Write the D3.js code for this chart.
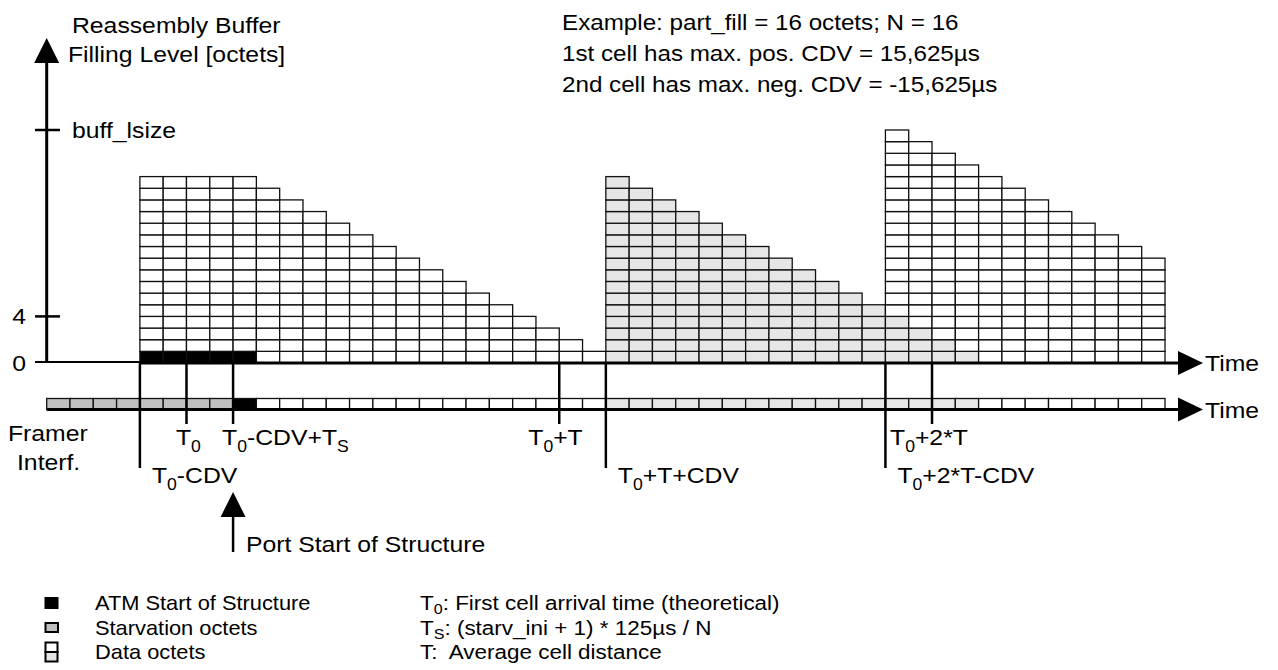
<!DOCTYPE html>
<html lang="en">
<head>
<meta charset="UTF-8">
<title>Reassembly Buffer Filling Level</title>
<script src="https://d3js.org/d3.v7.min.js"></script>
<style>
  body { margin:0; background:#fff; }
  svg { display:block; }
  text { font-family: "Liberation Sans", Arial, Helvetica, sans-serif; fill:#000; white-space: pre; }
</style>
</head>
<body>
<svg id="chart" width="1278" height="670"></svg>
<script>
// one slot = one octet time on the framer interface
var slotCount = 48;

// buffer content per slot, starting at slot 4 (T0-CDV)
var bufferStart = 4;
var bufferTotal = [16,16,16,16,16,15,14,13,12,11,10,9,8,7,6,5,4,3,2,1,
                   16,15,14,13,12,11,10,9,8,7,6,5,
                   20,19,18,17,16,15,14,13,12,11,10,9];
// octets of the 2nd cell still in the buffer (bottom rows, light grey)
var bufferOld   = [0,0,0,0,0,0,0,0,0,0,0,0,0,0,0,0,0,0,0,0,
                   16,15,14,13,12,11,10,9,8,7,6,5,
                   4,3,2,1,0,0,0,0,0,0,0,0];
// ATM start of structure octet (bottom row, black)
var bufferAtm   = [1,1,1,1,1,0,0,0,0,0,0,0,0,0,0,0,0,0,0,0,
                   0,0,0,0,0,0,0,0,0,0,0,0,
                   0,0,0,0,0,0,0,0,0,0,0,0];

// octets played out on the framer interface
var framerOctets = ["starv","starv","starv","starv","starv","starv","starv","starv",
  "atm",
  "data1","data1","data1","data1","data1","data1","data1","data1","data1","data1","data1","data1","data1","data1","data1",
  "data2","data2","data2","data2","data2","data2","data2","data2","data2","data2","data2","data2","data2","data2","data2","data2",
  "data1","data1","data1","data1","data1","data1","data1","data1"];

// time marks (slot, label, long tick)
var markSlots  = [4, 6, 8, 22, 24, 36, 38];
var markLabels = ["T~0-CDV", "T~0", "T~0-CDV+T~S", "T~0+T", "T~0+T+CDV", "T~0+2*T-CDV", "T~0+2*T"];
var markLong   = [true, false, false, false, true, true, false];

// y axis ticks
var yTickValues = [0, 4, 20];
var yTickLabels = ["0", "4", "buff_lsize"];

var exampleLines = ["Example: part_fill = 16 octets; N = 16",
                    "1st cell has max. pos. CDV = 15,625\u00b5s",
                    "2nd cell has max. neg. CDV = -15,625\u00b5s"];
var legendKinds  = ["atm", "starv", "data"];
var legendNames  = ["ATM Start of Structure", "Starvation octets", "Data octets"];
var legendNotes  = ["T~0: First cell arrival time (theoretical)",
                    "T~S: (starv_ini + 1) * 125\u00b5s / N",
                    "T:  Average cell distance"];

var fills = { atm: "#000", starv: "#c0c0c0", data1: "#fff", data2: "#e6e6e6" };

var svg = d3.select("#chart");
var x = d3.scaleLinear().domain([0, slotCount]).range([46.7, 1165]);
var y = d3.scaleLinear().domain([0, 20]).range([363, 130]);

var SX = 1.1;   // text in the figure is slightly wide
var FS = 22.5;  // main label size

// text with "~X" meaning subscript X
function addText(g, px, py, str, size, anchor, sx, drop) {
  var t = g.append("text")
    .attr("transform", "translate(" + px + "," + py + ") scale(" + (sx || SX) + ",1)")
    .attr("text-anchor", anchor || "start")
    .style("font-size", size + "px");
  var parts = str.split(/~(.)/);
  var shifted = false;
  var dropPx = size * (drop || 0.3);
  parts.forEach(function(p, i) {
    if (p === "") return;
    var sp = t.append("tspan").text(p);
    if (i % 2 === 1) {
      sp.style("font-size", Math.round(size * 0.7) + "px").attr("dy", dropPx);
      shifted = true;
    } else if (shifted) {
      sp.attr("dy", -dropPx);
      shifted = false;
    }
  });
  return t;
}

// ---- buffer cells
var cells = [];
bufferTotal.forEach(function(h, i) {
  for (var r = 0; r < h; r++) {
    var kind = r < bufferAtm[i] ? "atm" : (r < bufferAtm[i] + bufferOld[i] ? "data2" : "data1");
    cells.push({ slot: bufferStart + i, row: r, kind: kind });
  }
});

svg.append("g")
  .selectAll("rect")
  .data(cells)
  .enter()
  .append("rect")
    .attr("x", function(d) { return x(d.slot); })
    .attr("y", function(d) { return y(d.row + 1); })
    .attr("width", function(d) { return x(d.slot + 1) - x(d.slot); })
    .attr("height", function(d) { return y(d.row) - y(d.row + 1); })
    .attr("fill", function(d) { return fills[d.kind]; })
    .attr("stroke", "#111")
    .attr("stroke-width", 1.3);

// ---- framer strip
var stripTop = 398.5, stripBottom = 409.5;
svg.append("g")
  .selectAll("rect")
  .data(framerOctets)
  .enter()
  .append("rect")
    .attr("x", function(d, i) { return x(i); })
    .attr("y", stripTop)
    .attr("width", function(d, i) { return x(i + 1) - x(i); })
    .attr("height", stripBottom - stripTop)
    .attr("fill", function(d) { return fills[d]; })
    .attr("stroke", "#111")
    .attr("stroke-width", 1.3);

// ---- axes
var axes = svg.append("g").attr("stroke", "#000").attr("fill", "none");
var axisX0 = x(0);

function arrowRight(tipX, cy) {
  svg.append("path")
    .attr("d", "M" + tipX + "," + cy + "L" + (tipX - 25) + "," + (cy - 12) + "L" + (tipX - 25) + "," + (cy + 12) + "Z")
    .attr("fill", "#000");
}
function arrowUp(cx, tipY) {
  svg.append("path")
    .attr("d", "M" + cx + "," + tipY + "L" + (cx - 12.5) + "," + (tipY + 25) + "L" + (cx + 12.5) + "," + (tipY + 25) + "Z")
    .attr("fill", "#000");
}

// buffer time axis
axes.append("line").attr("x1", 35).attr("x2", x(bufferStart)).attr("y1", y(0) - 1).attr("y2", y(0) - 1).attr("stroke-width", 2);
axes.append("line").attr("x1", x(bufferStart)).attr("x2", 1185).attr("y1", y(0)).attr("y2", y(0)).attr("stroke-width", 3);
arrowRight(1203, y(0));
addText(svg, 1205, y(0) + 8, "Time", FS);

// framer time axis
axes.append("line").attr("x1", x(0)).attr("x2", 1185).attr("y1", stripBottom).attr("y2", stripBottom).attr("stroke-width", 3);
arrowRight(1203, stripBottom);
addText(svg, 1205, stripBottom + 8, "Time", FS);

// y axis
axes.append("line").attr("x1", axisX0).attr("x2", axisX0).attr("y1", y(0)).attr("y2", 55).attr("stroke-width", 3);
arrowUp(axisX0, 38);
yTickValues.forEach(function(v, i) {
  if (v > 0) {
    axes.append("line").attr("x1", 35).attr("x2", 60).attr("y1", y(v)).attr("y2", y(v)).attr("stroke-width", 2.5);
  }
  if (v < 20) addText(svg, 26, y(v) + 8, yTickLabels[i], FS, "end");
  else addText(svg, 72, y(v) + 8, yTickLabels[i], FS);
});
addText(svg, 72, 33, "Reassembly Buffer", FS);
addText(svg, 68, 62, "Filling Level [octets]", FS);

// ---- time marks
markSlots.forEach(function(s, i) {
  var px = x(s);
  var long = markLong[i];
  axes.append("line").attr("x1", px).attr("x2", px)
    .attr("y1", y(0)).attr("y2", long ? 468 : 424).attr("stroke-width", 2.5);
});
var labelDx = { "T~0": -10.5, "T~0-CDV+T~S": -11, "T~0+T": -31, "T~0+2*T": -42 };
markSlots.forEach(function(s, i) {
  var lab = markLabels[i];
  if (markLong[i]) addText(svg, x(s) + 12, 483, lab, FS);
  else addText(svg, x(s) + labelDx[lab], 445, lab, FS);
});

addText(svg, 8, 441, "Framer", FS);
addText(svg, 17, 470, "Interf.", FS);

// port start of structure
var portX = x(8);
axes.append("line").attr("x1", portX).attr("x2", portX).attr("y1", 510).attr("y2", 552).attr("stroke-width", 2.5);
arrowUp(portX, 492);
addText(svg, 246, 552, "Port Start of Structure", FS);

// ---- example text
exampleLines.forEach(function(t, i) {
  addText(svg, 562, 30 + i * 31, t, 22);
});

// ---- legend
var legend = svg.append("g");
legendKinds.forEach(function(k, i) {
  var cy = 603 + i * 24.5;
  if (k === "atm") {
    legend.append("rect").attr("x", 44.5).attr("y", cy - 6).attr("width", 14).attr("height", 12).attr("fill", "#000");
  } else if (k === "starv") {
    legend.append("rect").attr("x", 45.5).attr("y", cy - 4.5).attr("width", 12.5).attr("height", 9).attr("fill", fills.starv)
      .attr("stroke", "#000").attr("stroke-width", 2);
  } else {
    legend.append("rect").attr("x", 45.5).attr("y", cy - 9.5).attr("width", 12).attr("height", 9.5).attr("fill", "#fff")
      .attr("stroke", "#000").attr("stroke-width", 2);
    legend.append("rect").attr("x", 45.5).attr("y", cy).attr("width", 12).attr("height", 9.5).attr("fill", fills.data2)
      .attr("stroke", "#000").attr("stroke-width", 2);
  }
  addText(legend, 95, cy + 7, legendNames[i], 21, "start", 1.04);
  addText(legend, 420, cy + 7, legendNotes[i], 21, "start", 1.07, 0.2);
});
</script>
</body>
</html>
